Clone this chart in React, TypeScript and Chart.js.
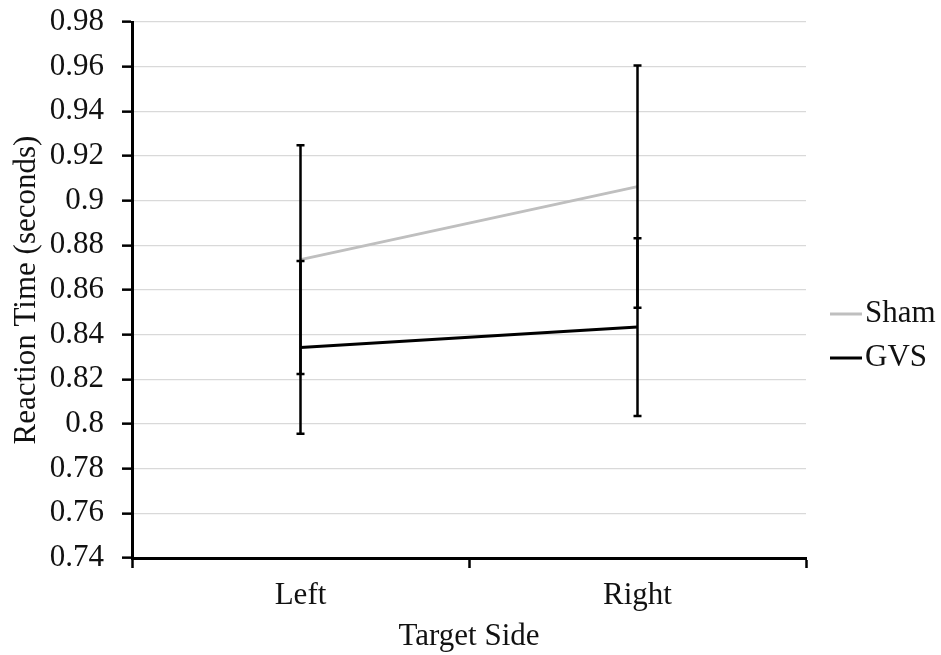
import React, { useEffect, useRef } from 'react';
import { Chart, registerables } from 'chart.js';

Chart.register(...registerables);

const categories = ['Left', 'Right'];
const seriesNames = ['Sham', 'GVS'];
const shamValues = [0.8736, 0.9063];
const gvsValues = [0.8343, 0.8434];
const shamErrors = [0.0512, 0.0542];
const gvsErrors = [0.0387, 0.0398];
const yTickValues = [0.74, 0.76, 0.78, 0.8, 0.82, 0.84, 0.86, 0.88, 0.9, 0.92, 0.94, 0.96, 0.98];
const yTickLabels = ['0.74', '0.76', '0.78', '0.8', '0.82', '0.84', '0.86', '0.88', '0.9', '0.92', '0.94', '0.96', '0.98'];
const seriesColors = ['#bfbfbf', '#000000'];

const FONT = '"Liberation Serif", "Times New Roman", serif';
const FONT_SIZE = 31;
const TEXT = '#111111';

const errorBarPlugin = {
  id: 'errorBars',
  afterDatasetsDraw(chart: any) {
    const ctx = chart.ctx;
    const xs = chart.scales.x;
    const ys = chart.scales.y;
    const groups = [
      { values: shamValues, errors: shamErrors },
      { values: gvsValues, errors: gvsErrors },
    ];
    ctx.save();
    ctx.strokeStyle = '#000';
    ctx.lineWidth = 2.5;
    groups.forEach((g) => {
      g.values.forEach((v, i) => {
        const px = xs.getPixelForValue(i);
        const top = ys.getPixelForValue(v + g.errors[i]);
        const bot = ys.getPixelForValue(v - g.errors[i]);
        ctx.beginPath();
        ctx.moveTo(px, top);
        ctx.lineTo(px, bot);
        ctx.moveTo(px - 4, top);
        ctx.lineTo(px + 4, top);
        ctx.moveTo(px - 4, bot);
        ctx.lineTo(px + 4, bot);
        ctx.stroke();
      });
    });
    ctx.restore();
  },
};

const sideLegendPlugin = {
  id: 'sideLegend',
  afterDraw(chart: any) {
    const ctx = chart.ctx;
    const area = chart.chartArea;
    const mid = (area.top + area.bottom) / 2;
    const x0 = area.right + 24;
    ctx.save();
    ctx.font = `${FONT_SIZE}px ${FONT}`;
    ctx.textBaseline = 'middle';
    ctx.textAlign = 'left';
    chart.data.datasets.forEach((ds: any, i: number) => {
      const y = mid + 24 + i * 44;
      ctx.strokeStyle = ds.borderColor;
      ctx.lineWidth = 3;
      ctx.beginPath();
      ctx.moveTo(x0, y);
      ctx.lineTo(x0 + 32, y);
      ctx.stroke();
      ctx.fillStyle = TEXT;
      ctx.fillText(ds.label, x0 + 35, y);
    });
    ctx.restore();
  },
};

export default function App() {
  const canvasRef = useRef<HTMLCanvasElement | null>(null);

  useEffect(() => {
    if (!canvasRef.current) return;
    const chart = new Chart(canvasRef.current, {
      type: 'line',
      data: {
        labels: categories,
        datasets: [
          {
            label: seriesNames[0],
            data: shamValues,
            borderColor: seriesColors[0],
            backgroundColor: seriesColors[0],
            borderWidth: 3,
            pointRadius: 0,
            tension: 0,
          },
          {
            label: seriesNames[1],
            data: gvsValues,
            borderColor: seriesColors[1],
            backgroundColor: seriesColors[1],
            borderWidth: 3,
            pointRadius: 0,
            tension: 0,
          },
        ],
      },
      options: {
        animation: false,
        responsive: false,
        devicePixelRatio: 1,
        layout: { padding: { top: 22, right: 135, left: 0, bottom: 0 } },
        plugins: {
          legend: { display: false },
          tooltip: { enabled: false },
        },
        scales: {
          x: {
            type: 'category',
            offset: true,
            grid: {
              offset: true,
              drawOnChartArea: false,
              drawTicks: true,
              tickLength: 10,
              tickWidth: 2.5,
              tickColor: '#000',
            },
            border: { color: '#000', width: 3 },
            ticks: {
              color: TEXT,
              font: { family: FONT, size: FONT_SIZE },
              padding: 9,
              maxRotation: 0,
            },
            title: {
              display: true,
              text: 'Target Side',
              color: TEXT,
              font: { family: FONT, size: FONT_SIZE },
              padding: { top: 0, bottom: 0 },
            },
            afterFit: (s: any) => {
              s.height = 97;
              s.paddingLeft = 0;
              s.paddingRight = 0;
            },
          },
          y: {
            type: 'linear',
            min: 0.74,
            max: 0.98,
            afterBuildTicks: (s: any) => {
              s.ticks = yTickValues.map((v) => ({ value: v }));
            },
            ticks: {
              color: TEXT,
              font: { family: FONT, size: FONT_SIZE },
              padding: 18,
              callback: (_v: any, i: number) => yTickLabels[i],
            },
            grid: {
              color: (c: any) => (c.tick && c.tick.value <= 0.7401 ? 'rgba(0,0,0,0)' : '#d9d9d9'),
              lineWidth: 1.3,
              tickLength: 10,
              tickWidth: 2.5,
              tickColor: '#000',
            },
            border: { color: '#000', width: 3 },
            title: {
              display: true,
              text: 'Reaction Time (seconds)',
              color: TEXT,
              font: { family: FONT, size: FONT_SIZE },
              padding: { top: 8, bottom: 0 },
            },
            afterFit: (s: any) => {
              s.width = 132;
              s.paddingTop = 0;
              s.paddingBottom = 0;
            },
          },
        },
      } as any,
      plugins: [errorBarPlugin, sideLegendPlugin],
    });
    return () => chart.destroy();
  }, []);

  return (
    <div style={{ position: 'fixed', left: 0, top: 0, width: 941, height: 655, background: '#fff' }}>
      <canvas ref={canvasRef} width={941} height={655} />
    </div>
  );
}
